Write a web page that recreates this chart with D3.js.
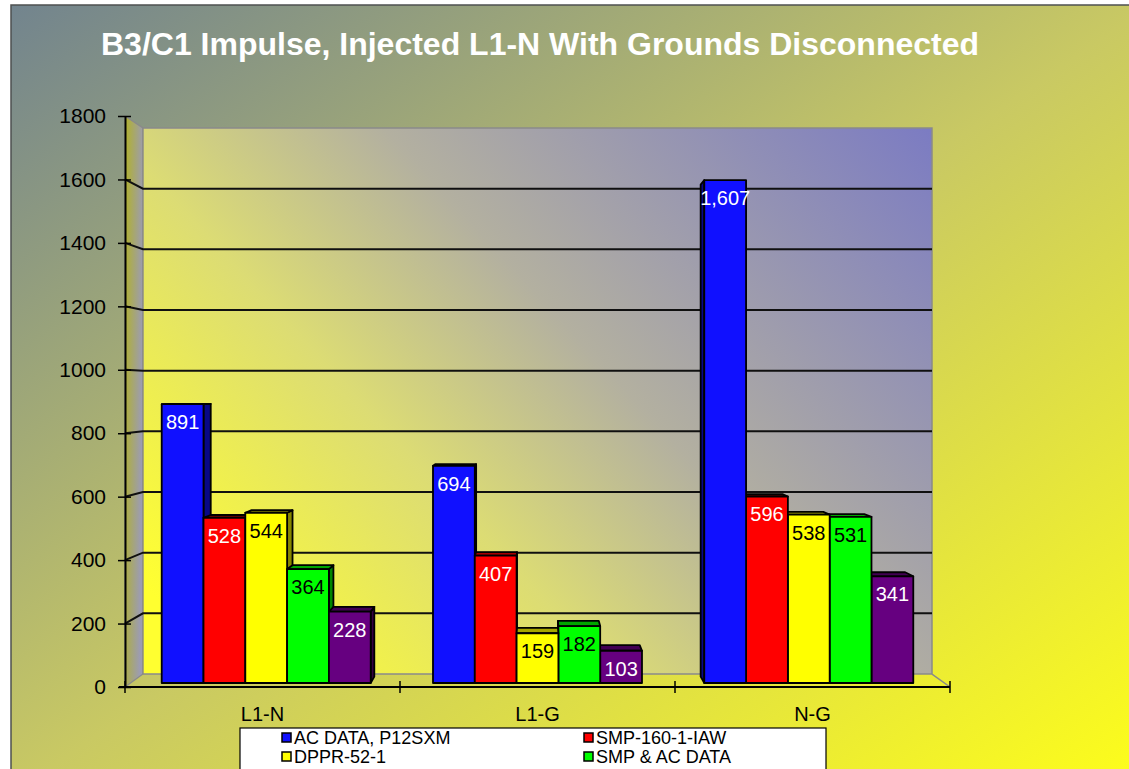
<!DOCTYPE html>
<html>
<head>
<meta charset="utf-8">
<script src="https://cdn.jsdelivr.net/npm/d3@7"></script>
<style>
  html, body { margin: 0; padding: 0; background: #ffffff; overflow: hidden; }
  svg text { font-family: "Liberation Sans", Arial, sans-serif; }
</style>
</head>
<body>
<svg id="chart" width="1129" height="769"></svg>
<script>
// ---- data ----
const categories = ["L1-N", "L1-G", "N-G"];
const seriesNames = ["AC DATA, P12SXM", "SMP-160-1-IAW", "DPPR-52-1", "SMP & AC DATA", "Series5"];
const acData   = [891, 694, 1607];
const smp160   = [528, 407, 596];
const dppr     = [544, 159, 538];
const smpAc    = [364, 182, 531];
const series5  = [228, 103, 341];
const seriesValues = [acData, smp160, dppr, smpAc, series5];
const seriesColors = ["#1010ff", "#ff0000", "#ffff00", "#00ff00", "#660080"];
const labelColors  = ["#ffffff", "#ffffff", "#000000", "#000000", "#ffffff"];
const yTicks = [0, 200, 400, 600, 800, 1000, 1200, 1400, 1600, 1800];
const legendEntries = 4; // the legend box only has room for two rows
const titleText = "B3/C1 Impulse, Injected L1-N With Grounds Disconnected";

// ---- layout ----
const svg = d3.select("#chart");
const defs = svg.append("defs");

// front plane scales
const x = d3.scaleBand().domain(categories).range([125, 950]).padding(0);
const xs = d3.scaleBand().domain(seriesNames).range([0, x.bandwidth()])
  .paddingInner(0).paddingOuter(0.745);
const y = d3.scaleLinear().domain([0, 1800]).range([687, 116]);

// simple perspective: points recede toward a vanishing point with depth z in [0,1]
const VP = [537, 390];
const depthShrink = 0.0436;
function proj(X, Y, z) {
  const s = 1 - depthShrink * z;
  return [VP[0] + (X - VP[0]) * s, VP[1] + (Y - VP[1]) * s];
}
const barZ0 = 0.31, barZ1 = 0.80;
const line = d3.line();

// ---- gradients ----
function linGrad(id, attrs, stops) {
  const g = defs.append("linearGradient").attr("id", id);
  Object.entries(attrs).forEach(([k, v]) => g.attr(k, v));
  stops.forEach(([o, c]) => g.append("stop").attr("offset", o).attr("stop-color", c));
}
linGrad("bgGrad", {x1: 0, y1: 0, x2: 1, y2: 1},
  [[0, "#72848e"], [0.5, "#c9c963"], [1, "#ffff18"]]);
linGrad("wallGrad", {gradientUnits: "userSpaceOnUse", x1: 250, y1: 700, x2: 900, y2: 100},
  [[0, "#ffff30"], [0.32, "#dcdc74"], [0.55, "#b3b0a0"], [1, "#7c7cc2"]]);
linGrad("sideWallGrad", {x1: 0, y1: 0, x2: 1, y2: 0.25},
  [[0, "#b2b228"], [1, "#9c9cb2"]]);

// ---- chart area ----
svg.append("rect")
  .attr("x", 11).attr("y", 5).attr("width", 1140).attr("height", 790)
  .attr("fill", "url(#bgGrad)")
  .attr("stroke", "#4e5050").attr("stroke-width", 1.5);

svg.append("text")
  .attr("x", 540).attr("y", 55)
  .attr("text-anchor", "middle")
  .attr("font-size", 32).attr("font-weight", "bold")
  .attr("fill", "#ffffff")
  .text(titleText);

// ---- walls ----
const [xL, xR] = x.range();
const yTop = y(1800), yBot = y(0);

svg.append("path")
  .attr("d", line([proj(xL, yTop, 0), proj(xL, yTop, 1), proj(xL, yBot, 1), proj(xL, yBot, 0)]) + "Z")
  .attr("fill", "url(#sideWallGrad)")
  .attr("stroke", "#8a8a8a").attr("stroke-width", 1.2);

svg.append("path")
  .attr("d", line([proj(xL, yTop, 1), proj(xR, yTop, 1), proj(xR, yBot, 1), proj(xL, yBot, 1)]) + "Z")
  .attr("fill", "url(#wallGrad)")
  .attr("stroke", "#8a8a8a").attr("stroke-width", 1.5);

// floor right edge
svg.append("path")
  .attr("d", line([proj(xR, yBot, 0), proj(xR, yBot, 1)]))
  .attr("stroke", "#8a8a8a").attr("stroke-width", 1.5).attr("fill", "none");

// ---- gridlines on side wall and back wall ----
const gridVals = yTicks.filter(v => v > 0 && v < 1800);
svg.append("g").selectAll("path").data(gridVals).join("path")
  .attr("d", v => line([proj(xL, y(v), 0), proj(xL, y(v), 1), proj(xR, y(v), 1)]))
  .attr("fill", "none").attr("stroke", "#101010").attr("stroke-width", 2);

// ---- bars ----
const bars = [];
categories.forEach((c, ci) => {
  seriesNames.forEach((s, si) => {
    const X0 = x(c) + xs(s), X1 = X0 + xs.bandwidth();
    bars.push({c, ci, si, value: seriesValues[si][ci], X0, X1});
  });
});
// paint farthest-from-eye bars first
bars.sort((a, b) => Math.abs((b.X0 + b.X1) / 2 - VP[0]) - Math.abs((a.X0 + a.X1) / 2 - VP[0]));

const barG = svg.append("g");
bars.forEach(b => {
  const col = d3.color(seriesColors[b.si]);
  const Yt = y(b.value), Yb = y(0);
  const g = barG.append("g").attr("stroke", "#000000").attr("stroke-width", 1.8)
    .attr("stroke-linejoin", "round");
  if (b.X1 < VP[0]) {   // right side face
    g.append("path")
      .attr("d", line([proj(b.X1, Yt, barZ0), proj(b.X1, Yt, barZ1), proj(b.X1, Yb, barZ1), proj(b.X1, Yb, barZ0)]) + "Z")
      .attr("fill", col.darker(1.8));
  }
  if (b.X0 > VP[0]) {   // left side face
    g.append("path")
      .attr("d", line([proj(b.X0, Yt, barZ0), proj(b.X0, Yt, barZ1), proj(b.X0, Yb, barZ1), proj(b.X0, Yb, barZ0)]) + "Z")
      .attr("fill", col.darker(1.8));
  }
  if (Yt > VP[1]) {     // top face
    g.append("path")
      .attr("d", line([proj(b.X0, Yt, barZ0), proj(b.X1, Yt, barZ0), proj(b.X1, Yt, barZ1), proj(b.X0, Yt, barZ1)]) + "Z")
      .attr("fill", col.darker(1.2));
  }
  g.append("path")      // front face
    .attr("d", line([proj(b.X0, Yt, barZ0), proj(b.X1, Yt, barZ0), proj(b.X1, Yb, barZ0), proj(b.X0, Yb, barZ0)]) + "Z")
    .attr("fill", col);
});

// ---- data labels ----
const fmt = d3.format(",");
svg.append("g").selectAll("text").data(bars).join("text")
  .attr("x", b => proj((b.X0 + b.X1) / 2, y(b.value), barZ0)[0])
  .attr("y", b => proj((b.X0 + b.X1) / 2, y(b.value), barZ0)[1] + 25)
  .attr("text-anchor", "middle")
  .attr("font-size", 20)
  .attr("fill", b => labelColors[b.si])
  .text(b => fmt(b.value));

// ---- value axis ----
const yAxis = svg.append("g").attr("transform", `translate(${xL},0)`)
  .call(d3.axisLeft(y).tickValues(yTicks).tickFormat(d3.format("d"))
    .tickSizeInner(7).tickSizeOuter(0).tickPadding(12));
yAxis.select(".domain").attr("stroke", "#000").attr("stroke-width", 2);
yAxis.selectAll(".tick line").attr("x1", 6).attr("x2", -7).attr("stroke", "#000").attr("stroke-width", 1.5);
yAxis.selectAll(".tick text").attr("font-size", 21).attr("fill", "#000")
  .style("font-family", "'Liberation Sans', Arial, sans-serif");

// ---- category axis ----
const xAxisY = y(0);
svg.append("line")
  .attr("x1", xL - 6).attr("x2", xR).attr("y1", xAxisY).attr("y2", xAxisY)
  .attr("stroke", "#000").attr("stroke-width", 2);
const bounds = [xL, ...categories.map(c => x(c) + x.bandwidth())];
svg.append("g").selectAll("line").data(bounds).join("line")
  .attr("x1", d => d).attr("x2", d => d)
  .attr("y1", xAxisY - 6).attr("y2", xAxisY + 6)
  .attr("stroke", "#000").attr("stroke-width", 1.5);
const xAxis = svg.append("g").attr("transform", `translate(0,${xAxisY})`)
  .call(d3.axisBottom(x).tickSize(0).tickPadding(20));
xAxis.select(".domain").remove();
xAxis.selectAll(".tick text").attr("font-size", 20).attr("fill", "#000")
  .style("font-family", "'Liberation Sans', Arial, sans-serif");

// ---- legend ----
const legend = svg.append("g");
legend.append("rect")
  .attr("x", 240).attr("y", 728).attr("width", 586).attr("height", 60)
  .attr("fill", "#ffffff").attr("stroke", "#000").attr("stroke-width", 1.2);
const legItems = legend.selectAll("g.item").data(seriesNames.slice(0, legendEntries)).join("g")
  .attr("class", "item")
  .attr("transform", (d, i) => `translate(${i % 2 === 0 ? 282 : 584},${737.5 + Math.floor(i / 2) * 19})`);
legItems.append("rect")
  .attr("x", 0).attr("y", -4.5).attr("width", 9).attr("height", 9)
  .attr("fill", (d, i) => seriesColors[i]).attr("stroke", "#000").attr("stroke-width", 1.5);
legItems.append("text")
  .attr("x", 12).attr("y", 6.5)
  .attr("font-size", 18).attr("fill", "#000")
  .text(d => d);
</script>
</body>
</html>
